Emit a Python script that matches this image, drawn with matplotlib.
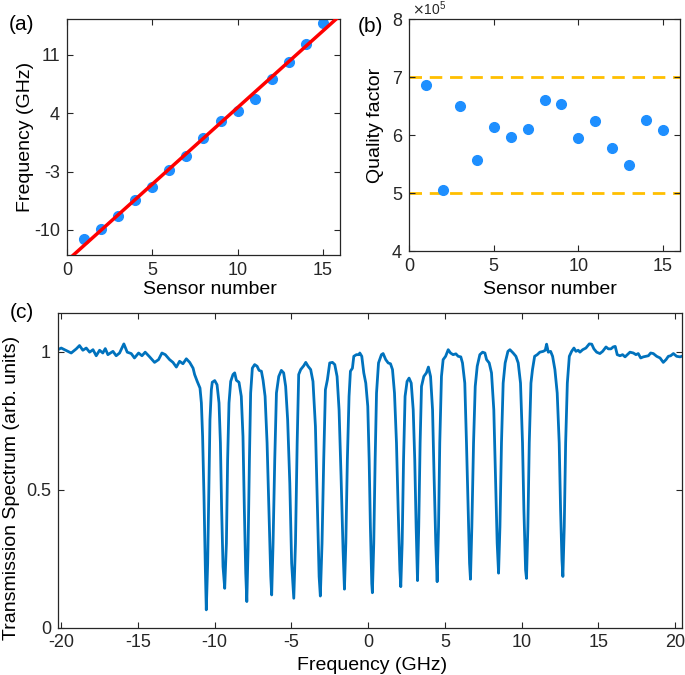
import numpy as np
import matplotlib
matplotlib.use('Agg')
from matplotlib import pyplot as plt

plt.rcParams['font.family'] = ['Liberation Sans', 'DejaVu Sans']
plt.rcParams['axes.unicode_minus'] = False

# (a) resonance frequency per sensor
sensor = [1, 2, 3, 4, 5, 6, 7, 8, 9, 10, 11, 12, 13, 14, 15]
freq_ghz = [-11.1, -9.84, -8.28, -6.4, -4.8, -2.84, -1.08, 1.04, 3.08, 4.28,
            5.68, 8.12, 10.12, 12.28, 14.88]

# (b) quality factor per sensor (x 1e5)
q_factor = [6.87, 5.06, 6.50, 5.57, 6.13, 5.97, 6.11, 6.61, 6.53, 5.95,
            6.24, 5.78, 5.48, 6.26, 6.09]
q_limits = [5, 7]

# (c) transmission spectrum traced from the measurement
spec_freq = [
    -20.21, -19.99, -19.56, -19.34, -19.01, -18.80, -18.58, -18.36, -18.14, -17.92,
    -17.71, -17.49, -17.28, -17.12, -16.95, -16.62, -16.41, -16.19, -15.91, -15.69,
    -15.43, -15.22, -14.95, -14.73, -14.52, -14.23, -13.91, -13.65, -13.43, -13.21,
    -12.93, -12.71, -12.49, -12.28, -12.06, -11.84, -11.62, -11.40, -11.30, -11.13,
    -10.95, -10.86, -10.78, -10.69, -10.60, -10.54, -10.45, -10.37, -10.30, -10.21,
    -10.15, -9.99, -9.84, -9.71, -9.62, -9.54, -9.45, -9.34, -9.23, -9.15,
    -9.06, -8.95, -8.80, -8.69, -8.58, -8.41, -8.26, -8.15, -8.06, -7.97,
    -7.90, -7.82, -7.73, -7.65, -7.54, -7.39, -7.23, -7.10, -6.95, -6.84,
    -6.71, -6.58, -6.45, -6.34, -6.28, -6.19, -6.08, -5.97, -5.82, -5.65,
    -5.50, -5.37, -5.24, -5.10, -4.98, -4.84, -4.73, -4.62, -4.52, -4.39,
    -4.19, -4.06, -3.91, -3.74, -3.59, -3.43, -3.30, -3.19, -3.11, -3.00,
    -2.89, -2.78, -2.65, -2.50, -2.32, -2.17, -2.02, -1.89, -1.76, -1.63,
    -1.54, -1.45, -1.35, -1.24, -1.15, -1.02, -0.93, -0.76, -0.58, -0.54,
    -0.41, -0.28, -0.15, -0.02, 0.07, 0.15, 0.24, 0.28, 0.37, 0.46,
    0.55, 0.68, 0.87, 0.98, 1.15, 1.31, 1.46, 1.59, 1.72, 1.85,
    1.96, 2.07, 2.13, 2.22, 2.31, 2.41, 2.54, 2.67, 2.81, 2.94,
    3.04, 3.13, 3.22, 3.30, 3.39, 3.48, 3.63, 3.80, 3.93, 4.07,
    4.20, 4.30, 4.41, 4.50, 4.59, 4.67, 4.78, 4.89, 5.05, 5.22,
    5.37, 5.54, 5.72, 5.87, 6.04, 6.15, 6.30, 6.41, 6.52, 6.61,
    6.67, 6.76, 6.87, 6.98, 7.11, 7.28, 7.46, 7.61, 7.72, 7.89,
    8.04, 8.19, 8.30, 8.41, 8.50, 8.59, 8.69, 8.80, 8.93, 9.11,
    9.24, 9.45, 9.63, 9.78, 9.93, 10.06, 10.15, 10.26, 10.32, 10.41,
    10.50, 10.61, 10.71, 10.85, 11.02, 11.19, 11.41, 11.54, 11.63, 11.74,
    11.89, 12.02, 12.17, 12.32, 12.45, 12.54, 12.63, 12.69, 12.78, 12.87,
    12.98, 13.11, 13.26, 13.41, 13.54, 13.69, 13.80, 13.98, 14.19, 14.41,
    14.57, 14.71, 14.89, 15.10, 15.28, 15.50, 15.65, 15.82, 15.97, 16.10,
    16.23, 16.41, 16.58, 16.74, 16.89, 17.06, 17.28, 17.45, 17.60, 17.76,
    17.93, 18.10, 18.26, 18.41, 18.58, 18.80, 19.02, 19.23, 19.41, 19.56,
    19.71, 19.89, 20.10, 20.32, 20.43]
spec_trans = [
    1.007, 1.013, 1.001, 0.995, 1.010, 1.022, 1.005, 1.013, 0.998, 1.007,
    0.985, 1.005, 0.995, 1.011, 0.989, 1.001, 0.985, 0.995, 1.028, 0.998,
    0.993, 0.977, 0.995, 0.985, 0.998, 0.981, 0.961, 0.971, 0.995, 0.989,
    0.971, 0.961, 0.944, 0.965, 0.956, 0.974, 0.961, 0.940, 0.917, 0.892,
    0.868, 0.814, 0.693, 0.475, 0.209, 0.064, 0.233, 0.523, 0.753, 0.862,
    0.889, 0.895, 0.880, 0.814, 0.669, 0.427, 0.221, 0.142, 0.305, 0.608,
    0.814, 0.892, 0.917, 0.923, 0.896, 0.889, 0.838, 0.693, 0.427, 0.197,
    0.094, 0.281, 0.608, 0.850, 0.940, 0.953, 0.947, 0.932, 0.929, 0.896,
    0.838, 0.669, 0.402, 0.185, 0.118, 0.305, 0.608, 0.850, 0.910, 0.932,
    0.923, 0.874, 0.753, 0.523, 0.233, 0.106, 0.305, 0.669, 0.917, 0.935,
    0.949, 0.961, 0.947, 0.935, 0.892, 0.729, 0.427, 0.185, 0.114, 0.305,
    0.608, 0.862, 0.898, 0.959, 0.961, 0.953, 0.910, 0.789, 0.547, 0.281,
    0.139, 0.305, 0.608, 0.838, 0.929, 0.940, 0.983, 0.989, 0.989, 0.995,
    0.983, 0.923, 0.886, 0.802, 0.608, 0.366, 0.160, 0.126, 0.305, 0.608,
    0.850, 0.959, 0.989, 0.993, 0.971, 0.959, 0.956, 0.935, 0.850, 0.669,
    0.427, 0.209, 0.148, 0.305, 0.608, 0.838, 0.892, 0.904, 0.886, 0.789,
    0.608, 0.366, 0.170, 0.366, 0.669, 0.874, 0.910, 0.923, 0.944, 0.910,
    0.789, 0.547, 0.305, 0.166, 0.366, 0.669, 0.910, 0.971, 0.983, 1.007,
    0.995, 0.989, 0.992, 0.983, 0.981, 0.959, 0.886, 0.669, 0.427, 0.233,
    0.175, 0.366, 0.669, 0.874, 0.947, 0.989, 0.998, 0.995, 0.971, 0.959,
    0.923, 0.789, 0.547, 0.305, 0.197, 0.366, 0.669, 0.886, 0.959, 1.001,
    1.007, 0.995, 0.983, 0.959, 0.886, 0.669, 0.427, 0.209, 0.178, 0.366,
    0.669, 0.886, 0.935, 0.983, 0.989, 0.998, 1.001, 1.005, 1.027, 0.998,
    1.001, 0.983, 0.935, 0.850, 0.669, 0.427, 0.245, 0.185, 0.366, 0.669,
    0.886, 0.983, 1.001, 1.013, 1.001, 1.005, 0.998, 1.007, 1.013, 1.028,
    1.027, 1.010, 0.998, 0.993, 1.001, 1.017, 1.010, 1.010, 1.017, 1.019,
    0.989, 0.985, 0.989, 0.981, 0.989, 0.998, 0.995, 0.989, 0.993, 0.977,
    0.981, 0.983, 0.985, 0.995, 0.993, 0.983, 0.977, 0.961, 0.971, 0.983,
    0.985, 0.993, 0.983, 0.981, 0.983]

DOT = '#1E8FFF'
AX_COLOR = '#262626'


def style_axes(ax):
    ax.tick_params(direction='in', top=True, right=True, length=4.5, width=0.8,
                   labelsize=13, colors=AX_COLOR, pad=5)
    for s in ax.spines.values():
        s.set_color(AX_COLOR)
        s.set_linewidth(0.9)


fig = plt.figure(figsize=(6.85, 6.75), dpi=100)
W, H = 685.0, 675.0

# (a)
ax1 = fig.add_axes([67 / W, 1 - 255 / H, 273 / W, 236 / H])
ax1.plot(sensor, freq_ghz, 'o', color=DOT, markersize=7, zorder=2)
slope, icpt = np.polyfit(sensor, freq_ghz, 1)
xl = np.array([0, 16])
ax1.plot(xl, slope * xl + icpt, color='red', lw=2.5, zorder=3)
ax1.set_xlim(0, 16)
ax1.set_ylim(-13, 15.3)
ax1.set_xticks([0, 5, 10, 15])
ax1.set_yticks([-10, -3, 4, 11])
ax1.set_xlabel('Sensor number', fontsize=14)
ax1.set_ylabel('Frequency (GHz)', fontsize=14)
ax1.xaxis.set_label_coords(0.524, -0.112)
ax1.yaxis.set_label_coords(-0.121, 0.5)
style_axes(ax1)
fig.text(22 / W, 1 - 24 / H, '(a)', fontsize=15, ha='center', va='center')

# (b)
ax2 = fig.add_axes([409 / W, 1 - 251 / H, 271 / W, 232 / H])
for q in q_limits:
    ax2.axhline(q, color='#FFBF00', lw=2, dashes=(4.5, 2.8), zorder=1)
ax2.plot(sensor, q_factor, 'o', color=DOT, markersize=7, zorder=2)
ax2.set_xlim(0, 16)
ax2.set_ylim(4, 8)
ax2.set_xticks([0, 5, 10, 15])
ax2.set_yticks([4, 5, 6, 7, 8])
ax2.set_xlabel('Sensor number', fontsize=14)
ax2.set_ylabel('Quality factor', fontsize=14)
ax2.xaxis.set_label_coords(0.52, -0.13)
ax2.yaxis.set_label_coords(-0.094, 0.54)
style_axes(ax2)
ax2.text(0.01, 1.005, r'$\times\mathregular{10^5}$', transform=ax2.transAxes,
         fontsize=10, color=AX_COLOR, ha='left', va='bottom')
fig.text(370 / W, 1 - 27 / H, '(b)', fontsize=15, ha='center', va='center')

# (c)
ax3 = fig.add_axes([58 / W, 1 - 627.5 / H, 624 / W, 314.5 / H])
ax3.plot(spec_freq, spec_trans, color='#0072BD', lw=2)
ax3.set_xlim(-20.2, 20.45)
ax3.set_ylim(0, 1.14)
ax3.set_xticks(range(-20, 21, 5))
ax3.set_yticks([0, 0.5, 1])
ax3.set_yticklabels(['0', '0.5', '1'])
ax3.set_xlabel('Frequency (GHz)', fontsize=14)
ax3.set_ylabel('Transmission Spectrum (arb. units)', fontsize=14)
ax3.xaxis.set_label_coords(0.503, -0.094)
ax3.yaxis.set_label_coords(-0.061, 0.443)
style_axes(ax3)
fig.text(22 / W, 1 - 312 / H, '(c)', fontsize=15, ha='center', va='center')

fig.savefig('out.png', dpi=100)
